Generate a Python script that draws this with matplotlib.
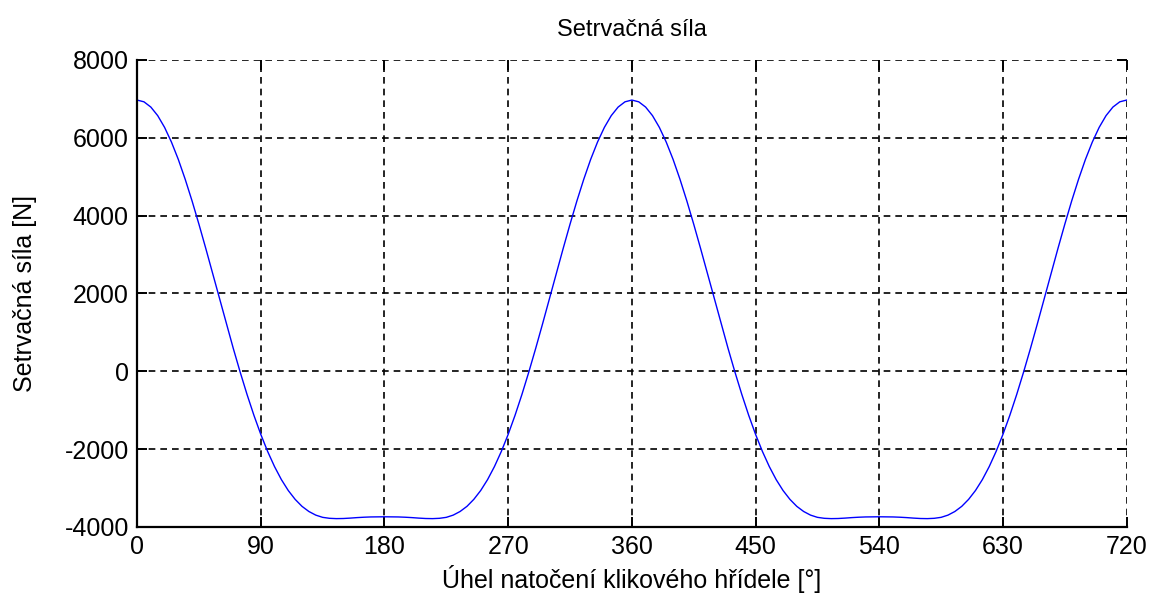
import matplotlib
matplotlib.use('Agg')
import matplotlib.pyplot as plt
import numpy as np


plt.rcParams['font.family'] = ['Liberation Sans', 'DejaVu Sans']
plt.rcParams['axes.unicode_minus'] = False

# angle of the crankshaft [deg], one cycle read every 5 deg
angle_cycle = list(range(0, 360, 5))

# inertia force, 0..180 deg
half_force = [6970, 6925, 6790, 6570, 6268, 5890, 5444, 4935, 4378, 3780,
              3155, 2512, 1862, 1217, 587, -20, -595, -1130, -1620, -2060,
              -2448, -2783, -3063, -3290, -3470, -3602, -3695, -3752, -3777,
              -3785, -3782, -3772, -3759, -3749, -3742, -3739, -3738]

# 180..355 deg is the mirror of 0..175 deg
force_cycle = half_force + half_force[-2:0:-1]

angle = angle_cycle + [a + 360 for a in angle_cycle] + [720]
force = force_cycle + force_cycle + [force_cycle[0]]

x_ticks = [0, 90, 180, 270, 360, 450, 540, 630, 720]
y_ticks = [-4000, -2000, 0, 2000, 4000, 6000, 8000]


fig = plt.figure(figsize=(11.52, 6.04), dpi=100)
ax = fig.add_axes([0.119, 0.1275, 0.859, 0.7732])

ax.plot(angle, force, color='#0000ff', linewidth=1.0)

ax.set_xlim(0, 720)
ax.set_ylim(-4000, 8000)
ax.set_xticks(x_ticks)
ax.set_yticks(y_ticks)

ax.grid(True, color='black', linestyle=(0, (4, 3)), linewidth=1.2)
for side in ['top', 'right']:
    ax.spines[side].set_visible(False)
for side in ['left', 'bottom']:
    ax.spines[side].set_linewidth(1.6)

ax.tick_params(direction='in', length=7, width=1.4, labelsize=18,
               top=True, right=True, pad=6)

ax.set_title('Setrvačná síla', fontsize=17, pad=17)
ax.set_xlabel('Úhel natočení klikového hřídele [°]', fontsize=18, labelpad=4)
ax.set_ylabel('Setrvačná síla [N]', fontsize=18, labelpad=20)

fig.savefig('out.png', dpi=100)
